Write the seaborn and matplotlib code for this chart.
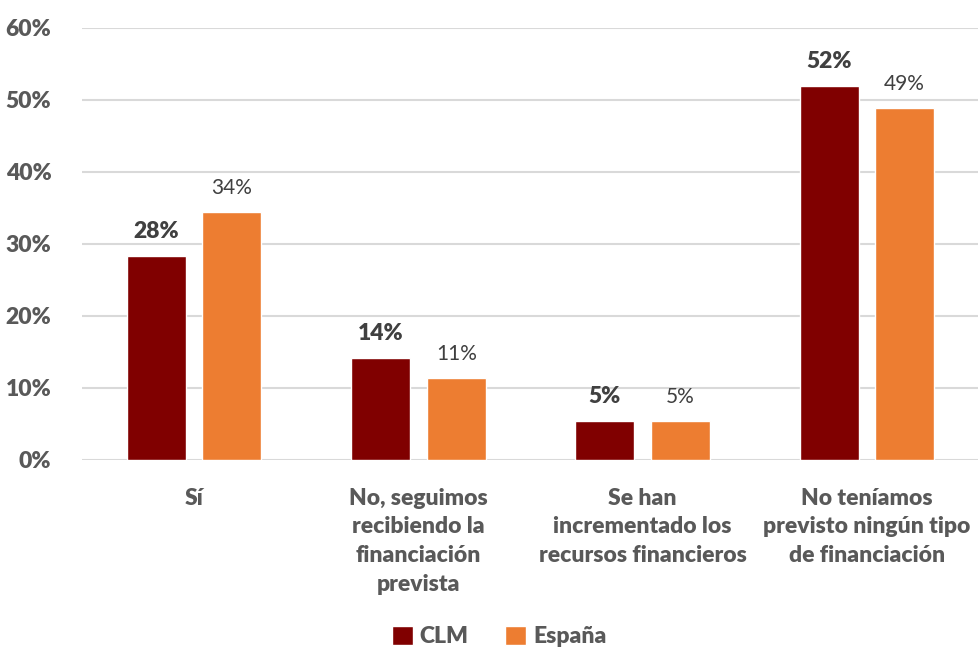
import matplotlib.pyplot as plt
import pandas as pd
import seaborn as sns
from matplotlib.ticker import FuncFormatter

categories = [
    "Sí",
    "No, seguimos\nrecibiendo la\nfinanciación\nprevista",
    "Se han\nincrementado los\nrecursos financieros",
    "No teníamos\nprevisto ningún tipo\nde financiación",
]
clm = [28.3, 14.2, 5.4, 51.9]
espana = [34.4, 11.4, 5.4, 48.9]
series = ["CLM", "España"]
colors = ["#800000", "#ED7D31"]

df = pd.DataFrame({
    "categoria": categories * 2,
    "serie": [series[0]] * len(clm) + [series[1]] * len(espana),
    "valor": clm + espana,
})

sns.set_theme(style="white")
plt.rcParams["font.family"] = ["Lato", "DejaVu Sans"]

fig = plt.figure(figsize=(9.79, 6.56), dpi=100)
ax = fig.add_axes([82 / 979, 196 / 656, 897 / 979, 432 / 656])

sns.barplot(
    data=df, x="categoria", y="valor", hue="serie",
    palette=colors, saturation=1, width=0.675, gap=0.22, ax=ax, legend=True,
)

ax.set_ylim(0, 60)
ax.set_xlim(-0.5, 3.5)
ax.set_yticks(range(0, 61, 10))
ax.yaxis.set_major_formatter(FuncFormatter(lambda v, _: f"{v:.0f}%"))
ax.grid(axis="y", color="#D9D9D9", linewidth=1.5)
ax.set_axisbelow(True)
for s in ax.spines.values():
    s.set_visible(False)
ax.set_xlabel("")
ax.set_ylabel("")
ax.tick_params(axis="y", labelsize=16.5, labelcolor="#595959", length=0, pad=22)
ax.tick_params(axis="x", labelsize=16.5, labelcolor="#595959", length=0, pad=20)
for lbl in ax.get_xticklabels() + ax.get_yticklabels():
    lbl.set_fontweight("heavy")
for lbl in ax.get_xticklabels():
    lbl.set_linespacing(1.45)

# data labels: CLM bold, España regular
for cont, weight, size in zip(ax.containers, ["heavy", "normal"], [16.5, 15]):
    ax.bar_label(cont, fmt="{:.0f}%", padding=10, fontsize=size,
                 fontweight=weight, color="#404040")

handles, labels = ax.get_legend_handles_labels()
ax.legend_.remove()
leg = fig.legend(
    handles, labels, loc="center", bbox_to_anchor=(0.51, 0.03),
    ncol=2, frameon=False, handlelength=0.9, handleheight=0.9,
    handletextpad=0.3, columnspacing=1.6, fontsize=16.5,
)
for t in leg.get_texts():
    t.set_fontweight("heavy")
    t.set_color("#595959")

fig.savefig("out.png", dpi=100)
